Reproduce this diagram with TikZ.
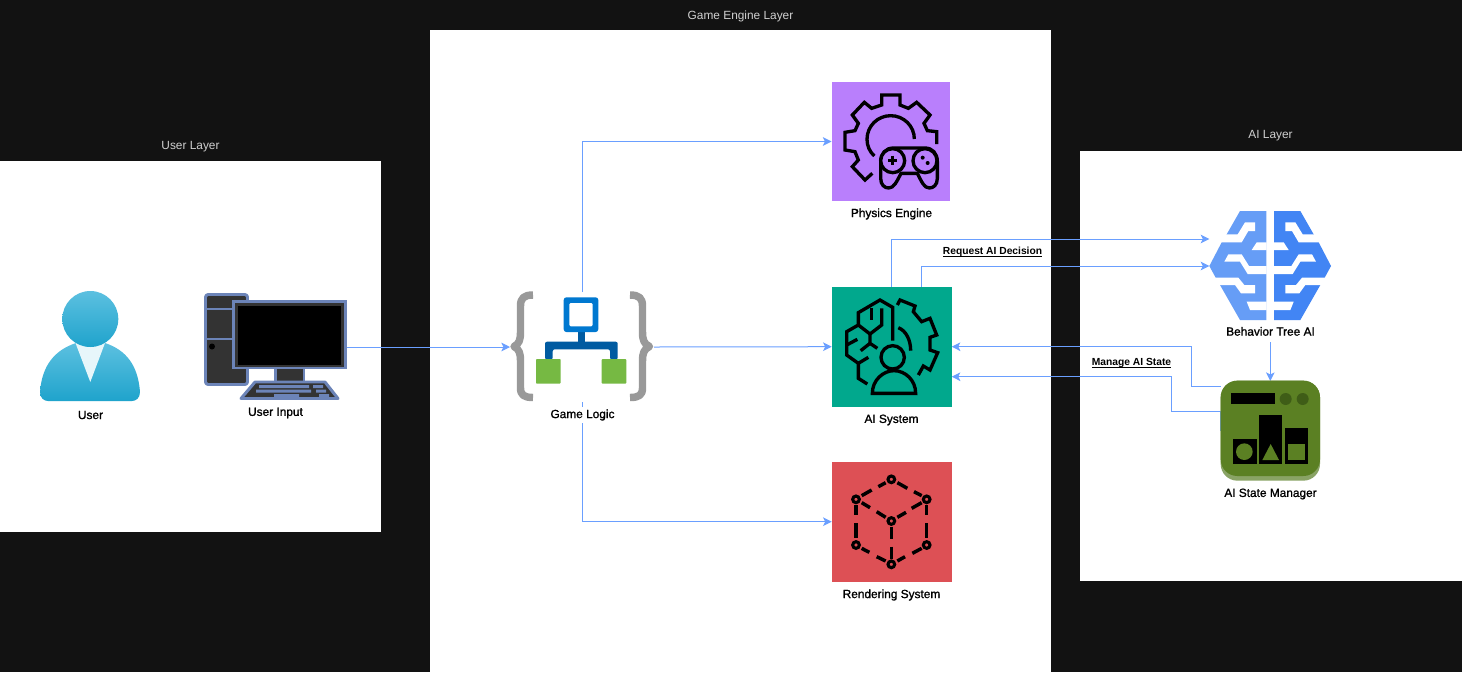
\documentclass[tikz,border=0pt]{standalone}
\usepackage{fontspec}
\setmainfont{Liberation Sans}
\newfontfamily\lab[FakeBold=1.2]{Liberation Sans}
\usetikzlibrary{arrows.meta}
\definecolor{bgk}{HTML}{121212}
\definecolor{connc}{HTML}{6A9FFF}
\definecolor{titlec}{HTML}{D0D0D0}
\definecolor{kstroke}{HTML}{6C84B8}
\definecolor{kfill}{HTML}{333333}
\definecolor{lgray}{HTML}{999999}
\definecolor{brainL}{HTML}{669DF6}
\definecolor{brainR}{HTML}{4285F4}
\definecolor{stgreen}{HTML}{5B8023}
\definecolor{stlip}{HTML}{89A365}
\definecolor{stdot}{HTML}{3F5D17}
\definecolor{ua}{HTML}{5CC0E0}
\definecolor{ub}{HTML}{1FA3CC}
\definecolor{la}{HTML}{0078D0}
\definecolor{lb}{HTML}{005BA1}
\definecolor{lc}{HTML}{76B943}
\definecolor{physc}{HTML}{B97FFC}
\definecolor{aic}{HTML}{01A88D}
\definecolor{renc}{HTML}{DD5055}
\newcommand{\lowul}[1]{\setbox0=\hbox{#1}\rlap{\rule[-1.6pt]{\wd0}{0.6pt}}\box0}
\tikzset{
 panel/.style={fill=white,draw=none},
 title/.style={text=titlec,font=\fontsize{8.9pt}{10pt}\selectfont,inner sep=0pt},
 iconbox/.style={inner sep=0pt,outer sep=0pt,draw=none,rectangle},
 nlabel/.style={font=\lab\fontsize{8.9pt}{10pt}\selectfont,text=black,fill=white,inner xsep=1pt,inner ysep=1.5pt},
 elabel/.style={font=\fontsize{7.7pt}{9pt}\selectfont\bfseries,text=black,inner sep=0pt},
 conn/.style={draw=connc,line width=0.75pt,-{Stealth[length=6.5pt,width=6.5pt,inset=1.6pt]}},
 ink/.style={draw=black,line width=2.5pt,line cap=butt,line join=miter},
 cubeink/.style={draw=black,line width=2.6pt},
 zoomed/.style={x=0.25pt,y=-0.25pt},
}
\newcommand{\brainhalf}[1]{%
 \fill[#1] (150,33)--(229,33)--(229,360)--(150,360)--(90,255)--(77,233)--(58,198)--(95,127)--(110,103)--cycle;
 \fill[white] (104,103)--(143,103)--(165,67)--(195,67)--(195,93)--(175,93)--(155,127)--(90,127)--cycle;
 \fill[white] (185,150)--(200,127)--(230,127)--(230,150)--cycle;
 \fill[white] (103,185)--(115,163)--(155,163)--(177,198)--(230,198)--(230,222)--(173,222)--(150,185)--cycle;
 \fill[white] (70,233)--(145,233)--(163,255)--(195,255)--(195,280)--(153,280)--(135,255)--(84,255)--cycle;
 \fill[white] (170,305)--(230,305)--(230,330)--(180,330)--cycle;
}
\begin{document}
\begin{tikzpicture}[x=0.75pt,y=-0.75pt]
\useasboundingbox (0,0) rectangle (1462,672);
\fill[bgk] (0,0) rectangle (1462,672);
\fill[panel] (0,161) rectangle (381,532);
\fill[panel] (430,30) rectangle (1051,672);
\fill[panel] (1080,151) rectangle (1462,581);
\node[title] (t1) at (190.5,146.5) {User Layer};
\node[title] (t2) at (740.5,16) {Game Engine Layer};
\node[title] (t3) at (1270.5,135.5) {AI Layer};

% icon anchors
\node[iconbox,minimum width=75pt,minimum height=82.5pt] (user) at (90,346) {};
\node[iconbox,minimum width=107.25pt,minimum height=80.25pt] (input) at (275.5,347) {};
\node[iconbox,minimum width=108pt,minimum height=82.5pt] (logic) at (582,347) {};
\node[iconbox,minimum width=89.25pt,minimum height=89.25pt] (physics) at (891,141.5) {};
\node[iconbox,minimum width=90pt,minimum height=90pt] (aisys) at (891.7,346.7) {};
\node[iconbox,minimum width=90pt,minimum height=90pt] (render) at (891.7,521.7) {};
\node[iconbox,minimum width=91.5pt,minimum height=82.5pt] (behavior) at (1270.3,266) {};
\node[iconbox,minimum width=74.25pt,minimum height=75pt] (statemgr) at (1270.3,431) {};

% connectors
\draw[conn] (input.east) -- (logic.west);
\draw[conn] (logic.east) -- (aisys.west);
\draw[conn] (logic.north) |- (physics.west);
\draw[conn] (logic.south) |- (render.west);
\draw[conn] (aisys.north) |- ([yshift=20.25pt]behavior.west);
\draw[conn] ([xshift=22.5pt]aisys.north) |- (behavior.west);
\draw[conn] (behavior.south) -- (statemgr.north);
\draw[conn] ([yshift=33.75pt]statemgr.west) -- ++(-29.5,0) |- (aisys.east);
\draw[conn] (statemgr.west) -- ++(0,-20) -- ++(-49.5,0) |- ([yshift=-22.5pt]aisys.east);

% labels
\node[nlabel] (userl) at (90.5,415) {User};
\node[nlabel] (inputl) at (275.5,413) {User Input};
\node[nlabel] (logicl) at (582.5,415) {Game Logic};
\node[nlabel] (physicsl) at (891.5,214) {Physics Engine};
\node[nlabel] (aisysl) at (891.5,420) {AI System};
\node[nlabel] (renderl) at (891.5,595) {Rendering System};
\node[nlabel,minimum height=15.5pt,anchor=south] (behaviorl) at (1270.5,342) {Behavior Tree AI};
\node[nlabel] (statemgrl) at (1270.5,494) {AI State Manager};
\node[elabel] (req) at (992.5,252.1) {\lowul{Request AI Decision}};
\node[elabel] (man) at (1131.5,362.8) {\lowul{Manage AI State}};

% user
\shade[top color=ua,bottom color=ub] (40,392) .. controls (42,365) and (55,350) .. (76,343) -- (105,343) .. controls (126,350) and (138,365) .. (140,392) .. controls (140,398) and (136,401) .. (132,401) -- (48,401) .. controls (44,401) and (40,398) .. (40,392) -- cycle;
\fill[white!85!ua] (75.5,343) -- (105,343) -- (90.3,382) -- cycle;
\shade[top color=ua,bottom color=ub] (90.3,319) circle[radius=28];

% computer
\begin{scope}[draw=kstroke,line width=2.2pt,line join=round]
\draw[fill=kfill,rounded corners=2pt] (205.5,294.5) rectangle (247.5,384.5);
\draw (205.5,309) -- (247.5,309);
\draw (205.5,339) -- (247.5,339);
\fill[black] (212,346.5) circle[radius=3];
\draw[fill=kfill] (275.5,366) rectangle (304,383);
\draw[fill=kfill,line join=round] (255,382) -- (325,382) -- (338,398.5) -- (241,398.5) -- cycle;
\draw[fill=kfill,line join=miter] (233.5,301.5) rectangle (345.5,368);
\end{scope}
\fill[black] (237.5,305.5) rectangle (341,365);
\fill[kstroke] (259,385) rectangle (309,388) (313,385) rectangle (323,388)
 (256,389.5) rectangle (311,392.5) (316,389.5) rectangle (326,392.5)
 (274,394) rectangle (299,397) (319,394) rectangle (329,397);

% game logic
\begin{scope}[draw=lgray,line width=5.6pt,line join=round]
\draw (533,295) .. controls (524,295) and (520.5,298) .. (520.5,306) -- (520.5,332) .. controls (520.5,340) and (519,344) .. (514,346.5) .. controls (519,349) and (520.5,353) .. (520.5,361) -- (520.5,388) .. controls (520.5,395) and (524,397.5) .. (533,397.5);
\draw (630,295) .. controls (639,295) and (642.5,298) .. (642.5,306) -- (642.5,332) .. controls (642.5,340) and (644,344) .. (649.5,346.5) .. controls (644,349) and (642.5,353) .. (642.5,361) -- (642.5,388) .. controls (642.5,395) and (639,397.5) .. (630,397.5);
\end{scope}
\fill[lb] (577.7,330) rectangle (585,342);
\fill[lb,rounded corners=1.5pt] (545,359.5) -- (545,341.7) -- (617.7,341.7) -- (617.7,359.5) -- (610,359.5) -- (610,349.3) -- (552.7,349.3) -- (552.7,359.5) -- cycle;
\fill[la,rounded corners=2pt] (563.7,297.3) rectangle (598.3,332);
\fill[white,rounded corners=1pt] (569.3,303) rectangle (592.7,326.3);
\fill[lc,rounded corners=.7pt] (536,359) rectangle (560.7,383.7);
\fill[lc,rounded corners=.7pt] (601.7,359) rectangle (626.3,383.7);

% physics engine
\fill[physc] (831.7,82.3) rectangle (950,200.7);
\begin{scope}[shift={(820,70)},zoomed]
\draw[ink] (350,222) -- (350,185) -- (322,182) -- (312,160) -- (330,135) -- (290,97) -- (265,115) -- (240,105) -- (240,75) -- (185,75) -- (185,105) -- (155,115) -- (133,97) -- (97,135) -- (115,160) -- (105,182) -- (75,187) -- (75,240) -- (105,245) -- (115,270) -- (97,290) -- (135,330) -- (157,310);
\draw[ink] (283,207) .. controls (283,168) and (251,137) .. (212,137) .. controls (173,137) and (141,168) .. (141,208) .. controls (141,228) and (149,245) .. (163,258);
\draw[ink,fill=physc] (182,275) .. controls (182,250) and (198,234) .. (220,234) -- (315,234) .. controls (337,234) and (352,250) .. (352,275) -- (352,325) .. controls (352,345) and (340,354) .. (328,354) .. controls (312,354) and (305,335) .. (292,310) -- (243,310) .. controls (230,335) and (222,354) .. (206,354) .. controls (194,354) and (182,345) .. (182,325) -- cycle;
\draw[ink,fill=physc] (218,272) circle[radius=36];
\draw[ink,fill=physc] (315,272) circle[radius=36];
\draw[ink] (204,271) -- (232,271) (218,257) -- (218,285);
\fill[black] (308,263) circle[radius=6] (323,279) circle[radius=6];
\end{scope}

% AI system
\fill[aic] (831.7,286.7) rectangle (951.7,406.7);
\begin{scope}[shift={(820,280)},zoomed]
\draw[ink] (218,182) -- (218,82) -- (180,60) -- (115,98) -- (115,135) -- (80,155) -- (80,225) -- (115,250) -- (115,295) -- (142,312);
\draw[ink] (155,85) -- (155,120);
\draw[ink] (185,85) -- (185,135) -- (150,162) -- (115,135);
\draw[ink] (150,162) -- (150,190) -- (172,205);
\draw[ink] (80,195) -- (112,178);
\draw[ink] (122,212) -- (150,190);
\draw[ink] (115,250) -- (145,232);
\draw[ink] (232,75) -- (240,60) -- (285,78) -- (280,95) -- (305,125) -- (330,115) -- (350,165) -- (330,172) -- (330,210) -- (353,218) -- (330,270) -- (310,258) -- (295,285);
\draw[ink] (235,143) .. controls (258,152) and (272,180) .. (272,212);
\draw[ink] (218,232) circle[radius=35];
\draw[ink] (157,340) -- (287,340) .. controls (287,300) and (255,272) .. (222,272) .. controls (190,272) and (157,300) .. (157,340) -- cycle;
\end{scope}

% rendering system
\fill[renc] (831.7,461.7) rectangle (951.7,581.7);
\begin{scope}[shift={(820,455)},zoomed]
\foreach \a/\b/\c/\d in {125/122/155/105,175/95/197/83,232/83/262/100,282/110/305/122,125/143/150/158,170/170/197/187,232/187/258/172,275/160/305/143,108/150/108/180,108/205/108/250,320/150/320/180,320/205/320/250,214/215/214/252,214/275/214/312,125/280/148/292,170/305/197/318,232/318/255/305,277/295/305/280}
 \draw[cubeink] (\a,\b) -- (\c,\d);
\foreach \a/\b in {214/73,108/133,320/133,214/198,108/270,320/270,214/328}
 \draw[draw=black,line width=2.3pt] (\a,\b) circle[radius=10];
\end{scope}

% behavior tree AI
\begin{scope}[shift={(1190,200)},zoomed]
\brainhalf{brainL}
\end{scope}
\begin{scope}[shift={(1350.33,200)},x=-0.25pt,y=-0.25pt]
\brainhalf{brainR}
\end{scope}

% AI state manager
\begin{scope}[shift={(1160,350)},zoomed]
\fill[stlip,rounded corners=12.5pt] (182,92) rectangle (480,392);
\fill[stgreen,rounded corners=12.5pt] (182,92) rectangle (480,378);
\fill[black] (212,130) rectangle (346,163);
\fill[stdot] (377,147) circle[radius=18] (428,147) circle[radius=18];
\fill[black] (218,268) rectangle (290,343);
\fill[stgreen] (253,305) circle[radius=25];
\fill[black] (296,196) rectangle (367,343);
\fill[stgreen] (307,330) -- (357,330) -- (332,282) -- cycle;
\fill[black] (374,233) rectangle (445,343);
\fill[stgreen] (385,282) rectangle (435,330);
\end{scope}
\end{tikzpicture}
\end{document}
